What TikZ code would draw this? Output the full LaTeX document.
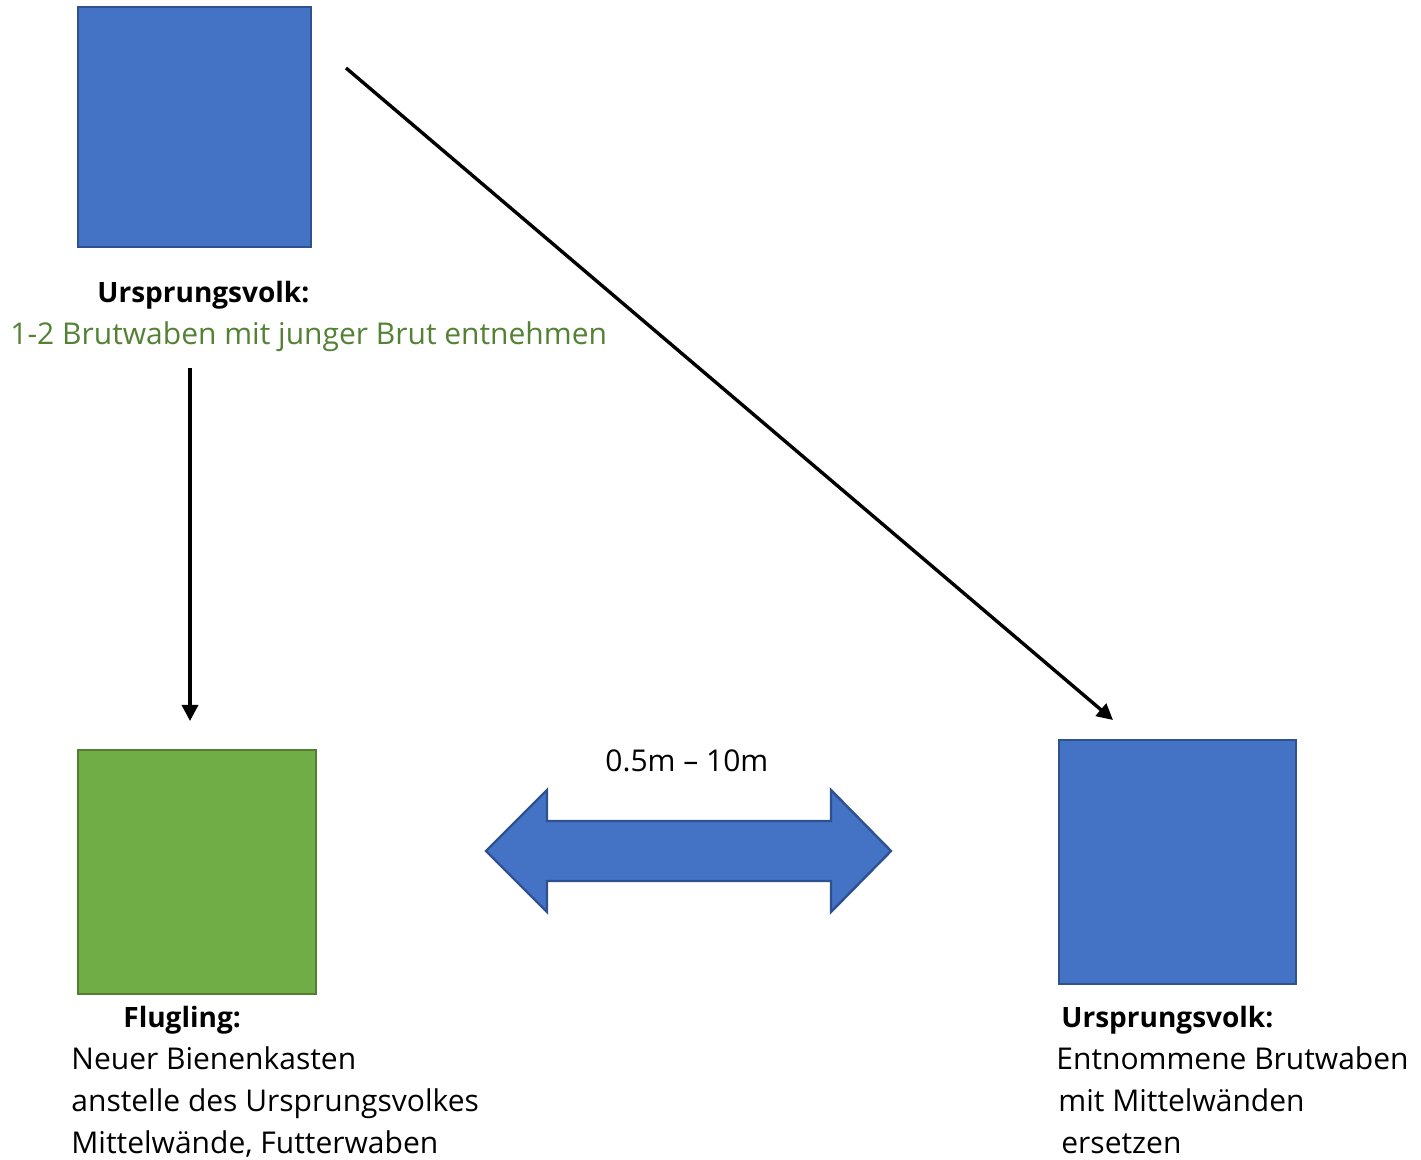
\documentclass[tikz,border=0pt]{standalone}
\usepackage{fontspec}
\setmainfont{Open Sans}
\usetikzlibrary{arrows.meta}
\definecolor{boxblue}{HTML}{4472C4}
\definecolor{blueedge}{HTML}{2F528F}
\definecolor{boxgreen}{HTML}{70AD47}
\definecolor{greenedge}{HTML}{507E32}
\definecolor{txtgreen}{HTML}{548235}
\tikzset{
  hive/.style={draw=blueedge, fill=boxblue, line width=1.2pt},
  newhive/.style={draw=greenedge, fill=boxgreen, line width=1.2pt},
  lbl/.style={anchor=base west, inner sep=0pt, font=\fontsize{15}{17}\selectfont},
  head/.style={anchor=base west, inner sep=0pt, font=\fontsize{14}{16}\selectfont\bfseries},
  conn/.style={line width=1.7pt, -{Triangle[length=8pt,width=8pt]}}
}
\begin{document}
\begin{tikzpicture}[x=0.5pt,y=-0.5pt]
\useasboundingbox (0,0) rectangle (1421,1160);
% boxes
\draw[hive] (78,7) rectangle (311,247);
\node[inner sep=0pt] (a) at (194.5,127) {};
\draw[newhive] (78,750) rectangle (316,994);
\node[inner sep=0pt] (b) at (197,872) {};
\draw[hive] (1059,740) rectangle (1296,984);
\node[inner sep=0pt] (c) at (1177.5,862) {};
% texts
\node[head] (t1) at (97,303) {Ursprungsvolk:};
\node[lbl, text=txtgreen] (t2) at (10,345) {1-2 Brutwaben mit junger Brut entnehmen};
\node[lbl] (dist) at (605,772) {0.5m -- 10m};
\node[head] (t3) at (123,1027) {Flugling:};
\node[lbl] (t4) at (71,1069) {Neuer Bienenkasten};
\node[lbl] (t5) at (71,1111) {anstelle des Ursprungsvolkes};
\node[lbl] (t6) at (71,1153) {Mittelwände, Futterwaben};
\node[head] (t7) at (1061,1027) {Ursprungsvolk:};
\node[lbl] (t8) at (1056,1069) {Entnommene Brutwaben};
\node[lbl] (t9) at (1058,1111) {mit Mittelwänden};
\node[lbl] (t10) at (1061,1153) {ersetzen};
% connectors
\coordinate (s1) at (190,368);
\coordinate (e1) at (190,721);
\coordinate (s2) at (346,68);
\coordinate (e2) at (1113,720);
\draw[conn] (s1) -- (e1);
\draw[conn] (s2) -- (e2);
% double arrow
\draw[hive] (486,851) -- (547,790) -- (547,821) -- (831,821) -- (831,790) -- (891,851)
  -- (831,912) -- (831,881) -- (547,881) -- (547,912) -- cycle;
\end{tikzpicture}
\end{document}
